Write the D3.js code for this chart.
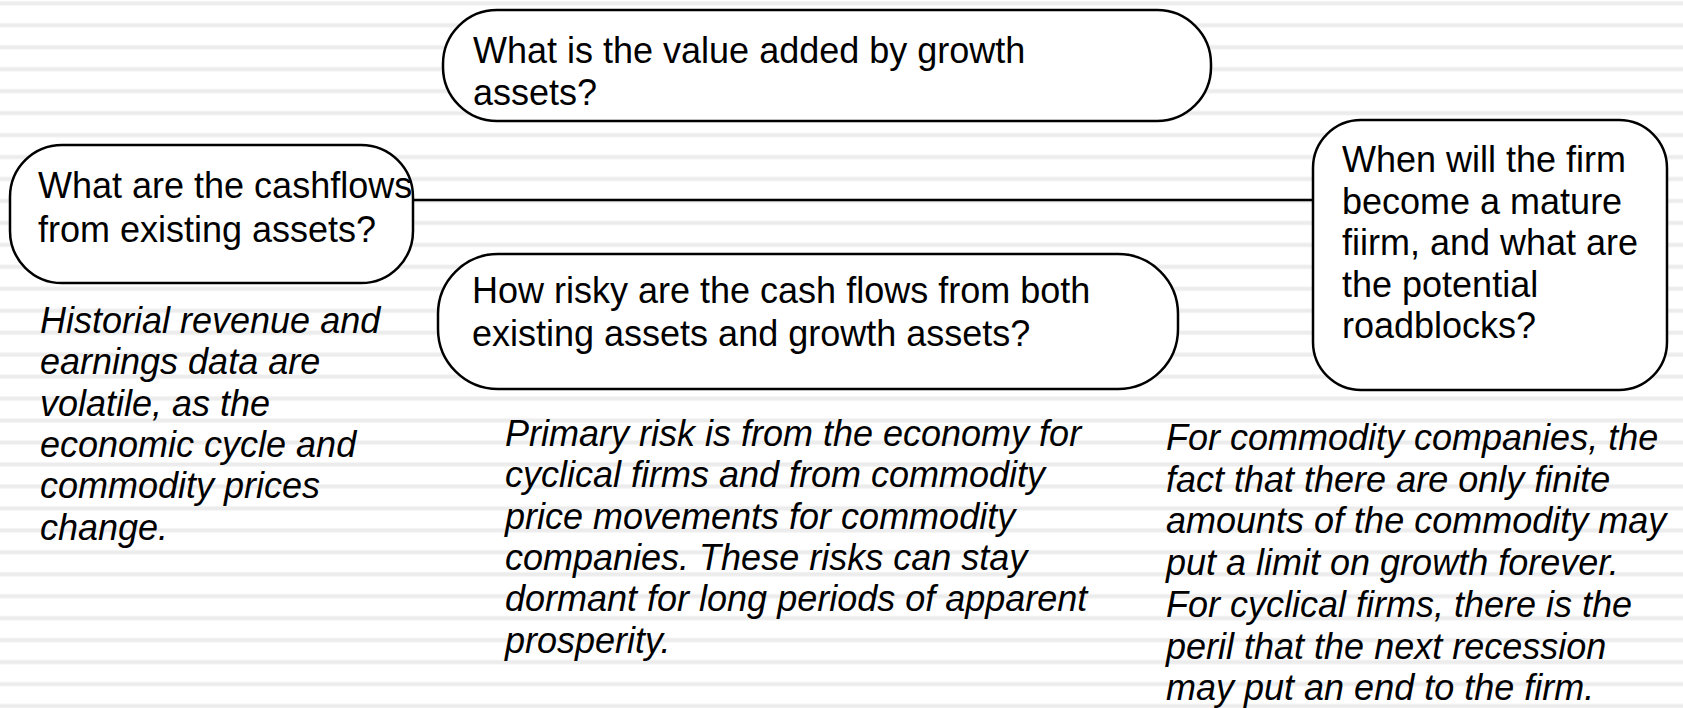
<!DOCTYPE html>
<html>
<head>
<meta charset="utf-8">
<script src="https://cdn.jsdelivr.net/npm/d3@7"></script>
<style>
  html, body { margin: 0; padding: 0; background: #ffffff; }
  svg { display: block; }
</style>
</head>
<body>
<div id="chart"></div>
<script>
// ---- content (text values) ----
const boxLeftLines = ["What are the cashflows", "from existing assets?"];
const boxTopLines = ["What is the value added by growth", "assets?"];
const boxMidLines = ["How risky are the cash flows from both", "existing assets and growth assets?"];
const boxRightLines = ["When will the firm", "become a mature", "fiirm, and what are", "the potential", "roadblocks?"];

const noteLeftLines = ["Historial revenue and", "earnings data are", "volatile, as the", "economic cycle and", "commodity prices", "change."];
const noteMidLines = ["Primary risk is from the economy for", "cyclical firms and from commodity", "price movements for commodity", "companies. These risks can stay", "dormant for long periods of apparent", "prosperity."];
const noteRightLines = ["For commodity companies, the", "fact that there are only finite", "amounts of the commodity may", "put a limit on growth forever.", "For cyclical firms, there is the", "peril that the next recession", "may put an end to the firm."];

// ---- layout ----
const W = 1683, H = 708;
const FONT = "'Liberation Sans', Arial, Helvetica, sans-serif";

const svg = d3.select("#chart").append("svg")
  .attr("width", W).attr("height", H)
  .attr("viewBox", `0 0 ${W} ${H}`);

// background stripes
const stripeY = d3.scaleLinear().domain([0, 1]).range([3.3, 3.3 + 21.96]);
const stripeIdx = d3.range(0, 33);
const stripes = svg.append("g");
stripes.selectAll("rect.o").data(stripeIdx).join("rect")
  .attr("class", "o")
  .attr("x", 0).attr("width", W)
  .attr("y", d => stripeY(d) - 2.5).attr("height", 5)
  .attr("fill", "#f5f5f5");
stripes.selectAll("rect.i").data(stripeIdx).join("rect")
  .attr("class", "i")
  .attr("x", 0).attr("width", W)
  .attr("y", d => stripeY(d) - 1.5).attr("height", 3)
  .attr("fill", "#ececec");

// connector line (left box -> right box)
svg.append("line")
  .attr("x1", 405).attr("x2", 1320)
  .attr("y1", 200).attr("y2", 200)
  .attr("stroke", "#000").attr("stroke-width", 2.5);

const boxes = [
  { lines: boxLeftLines,  x: 10,   y: 145, w: 403, h: 138, r: 52, tx: 38,   ty: 198, lh: 44 },
  { lines: boxTopLines,   x: 443,  y: 10,  w: 768, h: 111, r: 54, tx: 473,  ty: 63,  lh: 42 },
  { lines: boxMidLines,   x: 438,  y: 254, w: 740, h: 135, r: 60, tx: 472,  ty: 303, lh: 43 },
  { lines: boxRightLines, x: 1313, y: 120, w: 354, h: 270, r: 48, tx: 1342, ty: 172, lh: 41.5 }
];

const gBox = svg.append("g");
gBox.selectAll("rect").data(boxes).join("rect")
  .attr("x", d => d.x).attr("y", d => d.y)
  .attr("width", d => d.w).attr("height", d => d.h)
  .attr("rx", d => d.r).attr("ry", d => d.r)
  .attr("fill", "#ffffff")
  .attr("stroke", "#000").attr("stroke-width", 2.5);

gBox.selectAll("text").data(boxes).join("text")
  .attr("font-family", FONT).attr("font-size", 36).attr("fill", "#000")
  .each(function(d) {
    d3.select(this).selectAll("tspan").data(d.lines).join("tspan")
      .attr("x", d.tx).attr("y", (l, i) => d.ty + i * d.lh)
      .text(l => l);
  });

const notes = [
  { lines: noteLeftLines,  tx: 40,   ty: 333, lh: 41.3 },
  { lines: noteMidLines,   tx: 505,  ty: 446, lh: 41.3 },
  { lines: noteRightLines, tx: 1166, ty: 450, lh: 41.7 }
];

svg.append("g").selectAll("text").data(notes).join("text")
  .attr("font-family", FONT).attr("font-size", 36).attr("font-style", "italic").attr("fill", "#000")
  .each(function(d) {
    d3.select(this).selectAll("tspan").data(d.lines).join("tspan")
      .attr("x", d.tx).attr("y", (l, i) => d.ty + i * d.lh)
      .text(l => l);
  });
</script>
</body>
</html>
